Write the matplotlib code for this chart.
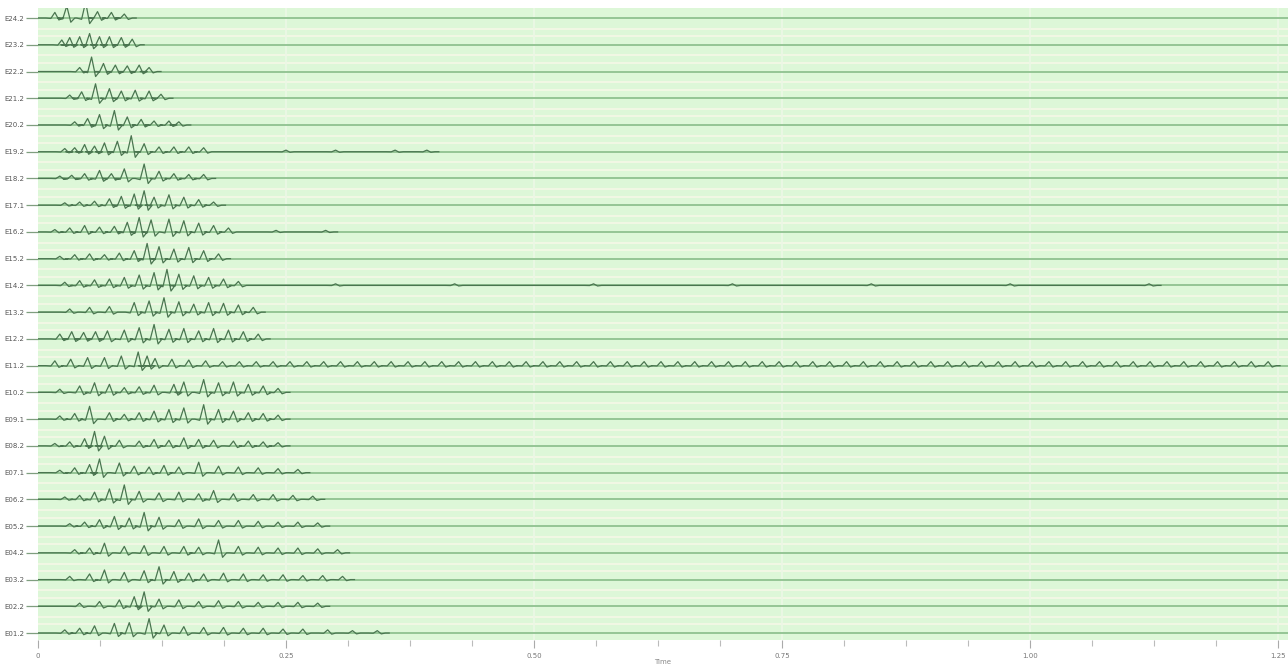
import numpy as np
import matplotlib
matplotlib.use("Agg")
import matplotlib.pyplot as plt
from matplotlib.ticker import MultipleLocator

# ---------------- data ----------------
channels = ["E24.2", "E23.2", "E22.2", "E21.2", "E20.2", "E19.2", "E18.2", "E17.1",
            "E16.2", "E15.2", "E14.2", "E13.2", "E12.2", "E11.2", "E10.2", "E09.1",
            "E08.2", "E07.1", "E06.2", "E05.2", "E04.2", "E03.2", "E02.2", "E01.2"]

# spike times (ms) and relative amplitudes for each channel
spike_times = [
    [17, 29, 48, 60, 74, 87],
    [24, 32, 42, 52, 62, 72, 84, 95],
    [42, 54, 66, 78, 90, 102, 112],
    [32, 44, 58, 72, 84, 98, 112, 124],
    [37, 50, 62, 77, 90, 104, 117, 132, 142],
    [27, 37, 47, 57, 67, 80, 94, 107, 122, 137, 152, 167, 250, 300, 360, 392],
    [22, 34, 47, 62, 74, 87, 107, 122, 137, 152, 167],
    [27, 42, 57, 72, 84, 97, 107, 117, 132, 147, 162, 177],
    [17, 32, 47, 62, 77, 90, 102, 114, 132, 147, 162, 177, 192, 240, 290],
    [22, 37, 52, 67, 82, 97, 110, 122, 137, 152, 167, 182],
    [27, 42, 57, 72, 87, 102, 117, 130, 142, 157, 172, 187, 202, 300, 420, 560, 700, 840, 980, 1120],
    [32, 52, 72, 97, 112, 127, 142, 157, 172, 187, 202, 217],
    [22, 34, 46, 58, 70, 87, 102, 117, 132, 147, 162, 177, 192, 207, 222],
    [17, 33, 50, 67, 84, 101, 110, 118, 135, 152, 169, 186, 203, 220, 237, 254, 271, 288,
     305, 322, 339, 356, 373, 390, 407, 424, 441, 458, 475, 492, 509, 526, 543, 560,
     577, 594, 611, 628, 645, 662, 679, 696, 713, 730, 747, 764, 781, 798, 815, 832,
     849, 866, 883, 900, 917, 934, 951, 968, 985, 1002, 1019, 1036, 1053, 1070, 1087,
     1104, 1121, 1138, 1155, 1172, 1189, 1206, 1223, 1240],
    [22, 42, 57, 72, 87, 102, 117, 137, 147, 167, 182, 197, 212, 227, 242],
    [22, 37, 52, 72, 87, 102, 117, 132, 147, 167, 182, 197, 212, 227, 242],
    [17, 32, 47, 57, 67, 82, 102, 117, 132, 147, 162, 177, 197, 212, 227, 242],
    [22, 37, 52, 62, 82, 97, 112, 127, 142, 162, 182, 202, 222, 242, 262],
    [27, 42, 57, 72, 87, 102, 122, 142, 162, 177, 197, 217, 237, 257, 277],
    [32, 47, 62, 77, 92, 107, 122, 142, 162, 182, 202, 222, 242, 262, 282],
    [37, 52, 67, 87, 107, 127, 147, 162, 182, 202, 222, 242, 262, 282, 302],
    [32, 52, 67, 87, 107, 122, 137, 152, 167, 187, 207, 227, 247, 267, 287, 307],
    [42, 62, 82, 97, 107, 122, 142, 162, 182, 202, 222, 242, 262, 282],
    [27, 42, 57, 77, 92, 112, 127, 147, 167, 187, 207, 227, 247, 267, 292, 317, 342],
]
spike_amps = [
    [0.7, 1.5, 2.0, 0.8, 0.7, 0.5],
    [0.6, 0.9, 1.0, 1.4, 1.0, 1.0, 0.9, 0.7],
    [0.5, 1.8, 1.0, 0.8, 0.7, 0.8, 0.5],
    [0.4, 0.8, 1.8, 1.2, 0.9, 1.0, 0.9, 0.5],
    [0.4, 0.8, 1.3, 1.8, 1.0, 0.7, 0.5, 0.5, 0.4],
    [0.4, 0.5, 0.9, 0.7, 1.1, 1.3, 2.0, 1.0, 0.6, 0.6, 0.6, 0.5, 0.2, 0.2, 0.2, 0.2],
    [0.3, 0.4, 0.6, 1.0, 0.6, 1.2, 1.8, 0.9, 0.6, 0.5, 0.5],
    [0.3, 0.4, 0.5, 0.8, 1.1, 1.4, 1.8, 1.0, 1.3, 1.0, 0.7, 0.4],
    [0.3, 0.5, 0.8, 0.6, 0.7, 1.2, 1.8, 1.5, 1.6, 1.4, 1.1, 0.8, 0.5, 0.2, 0.2],
    [0.3, 0.5, 0.6, 0.5, 0.7, 1.0, 1.9, 1.5, 1.2, 1.4, 1.0, 0.6],
    [0.4, 0.6, 0.7, 0.8, 1.0, 1.3, 1.6, 2.0, 1.4, 1.2, 1.0, 0.8, 0.5, 0.2, 0.2, 0.2, 0.2, 0.2, 0.2, 0.2],
    [0.4, 0.6, 0.7, 1.2, 1.4, 1.8, 1.3, 1.0, 1.2, 1.1, 0.9, 0.6],
    [0.6, 0.9, 0.8, 0.9, 1.0, 1.1, 1.4, 1.8, 1.2, 1.3, 1.0, 1.3, 1.1, 0.9, 0.6],
    [0.6, 0.8, 1.0, 1.0, 1.2, 1.7, 1.2, 0.9, 0.8, 0.7, 0.6, 0.5, 0.5, 0.5, 0.5, 0.5, 0.5,
     0.5, 0.5, 0.5, 0.5, 0.5, 0.5, 0.5, 0.5, 0.5, 0.5, 0.5, 0.5, 0.5, 0.5, 0.5, 0.5, 0.5,
     0.5, 0.5, 0.5, 0.5, 0.5, 0.5, 0.5, 0.5, 0.5, 0.5, 0.5, 0.5, 0.5, 0.5, 0.5, 0.5,
     0.5, 0.5, 0.5, 0.5, 0.5, 0.5, 0.5, 0.5, 0.5, 0.5, 0.5, 0.5, 0.5, 0.5, 0.5,
     0.5, 0.5, 0.5, 0.5, 0.5, 0.5, 0.5, 0.5, 0.5],
    [0.4, 0.8, 1.2, 1.0, 0.6, 0.7, 0.9, 1.0, 1.3, 1.6, 1.2, 1.3, 1.0, 0.8, 0.5],
    [0.4, 0.7, 1.6, 0.8, 0.6, 0.8, 1.0, 1.2, 1.4, 1.8, 1.2, 1.0, 0.8, 0.7, 0.5],
    [0.3, 0.5, 0.9, 1.8, 1.2, 0.7, 0.6, 0.8, 0.7, 1.0, 0.8, 0.7, 0.6, 0.6, 0.5, 0.4],
    [0.3, 0.6, 1.0, 1.7, 1.2, 0.8, 0.7, 0.9, 0.7, 1.3, 0.8, 0.7, 0.6, 0.5, 0.4],
    [0.3, 0.5, 0.9, 1.3, 1.8, 1.0, 0.8, 0.9, 0.7, 1.1, 0.7, 0.6, 0.6, 0.5, 0.4],
    [0.3, 0.5, 0.8, 1.2, 1.0, 1.7, 1.1, 0.8, 0.9, 0.7, 0.7, 0.6, 0.5, 0.5, 0.4],
    [0.4, 0.6, 1.2, 0.8, 0.9, 0.8, 0.8, 0.7, 1.6, 0.8, 0.7, 0.6, 0.6, 0.5, 0.4],
    [0.4, 0.7, 1.2, 0.9, 1.1, 1.6, 1.0, 0.8, 0.7, 0.8, 0.7, 0.6, 0.6, 0.5, 0.5, 0.4],
    [0.4, 0.6, 0.8, 1.2, 1.8, 0.9, 0.8, 0.6, 0.7, 0.6, 0.5, 0.5, 0.5, 0.4],
    [0.4, 0.6, 0.9, 1.2, 1.3, 1.8, 1.0, 0.8, 0.7, 0.7, 0.6, 0.6, 0.5, 0.5, 0.4, 0.3, 0.3],
]

x_major_ticks = [0, 0.25, 0.5, 0.75, 1.0, 1.25]
x_tick_labels = ["0", "0.25", "0.50", "0.75", "1.00", "1.25"]

# ---------------- plot ----------------
W, H = 1288, 666
fig = plt.figure(figsize=(W / 100, H / 100), dpi=100)
ax = fig.add_axes([38 / W, 26 / H, (W - 38) / W, (640 - 8) / H])
ax.set_facecolor("#ddf7d8")

n = len(channels)
xmax = 1.26
gain = 0.30          # channel units per relative amplitude
hw = 0.0045          # spike half-width in s (shape only)

# background stripes
for i in range(n):
    base = -i
    ax.axhline(base - 0.40, color="#f1f7e4", lw=1.5, zorder=1)
    ax.axhline(base - 0.68, color="#f1f7e4", lw=1.5, zorder=1)
for xt in x_major_ticks[1:]:
    ax.axvline(xt, color="#ecf7e6", lw=1.2, zorder=1)

for i, (ts, amps) in enumerate(zip(spike_times, spike_amps)):
    base = -i
    ax.axhline(base, color="#95c595", lw=1.4, zorder=2)
    xs = [0.0]
    ys = [base]
    for t_ms, a in zip(ts, amps):
        t = t_ms / 1000.0
        h = a * gain
        xs += [t - 2.0 * hw, t - 0.9 * hw, t, t + 0.9 * hw, t + 1.8 * hw]
        ys += [base, base - 0.08 * h, base + h, base - 0.35 * h, base]
    xs.append(ts[-1] / 1000.0 + 0.012)
    ys.append(base)
    ax.plot(xs, ys, color="#4a7550", lw=0.9, zorder=3)

ax.set_xlim(0, xmax)
ax.set_ylim(-(n - 1) - 0.26, 0.375)
ax.set_yticks([-i for i in range(n)])
ax.set_yticklabels(channels, fontsize=5, color="#555555")
ax.set_xticks(x_major_ticks)
ax.set_xticklabels(x_tick_labels, fontsize=5, color="#777777")
ax.xaxis.set_minor_locator(MultipleLocator(0.0625))
ax.tick_params(axis="y", length=9, width=0.9, color="#7f9f7f", pad=1)
ax.tick_params(axis="x", which="major", length=6, width=0.8, color="#aaaaaa", pad=3)
ax.tick_params(axis="x", which="minor", length=4, width=0.8, color="#bbbbbb")
for s in ax.spines.values():
    s.set_visible(False)
ax.set_xlabel("Time", fontsize=5, color="#888888", labelpad=0)

fig.savefig("out.png", dpi=100)
